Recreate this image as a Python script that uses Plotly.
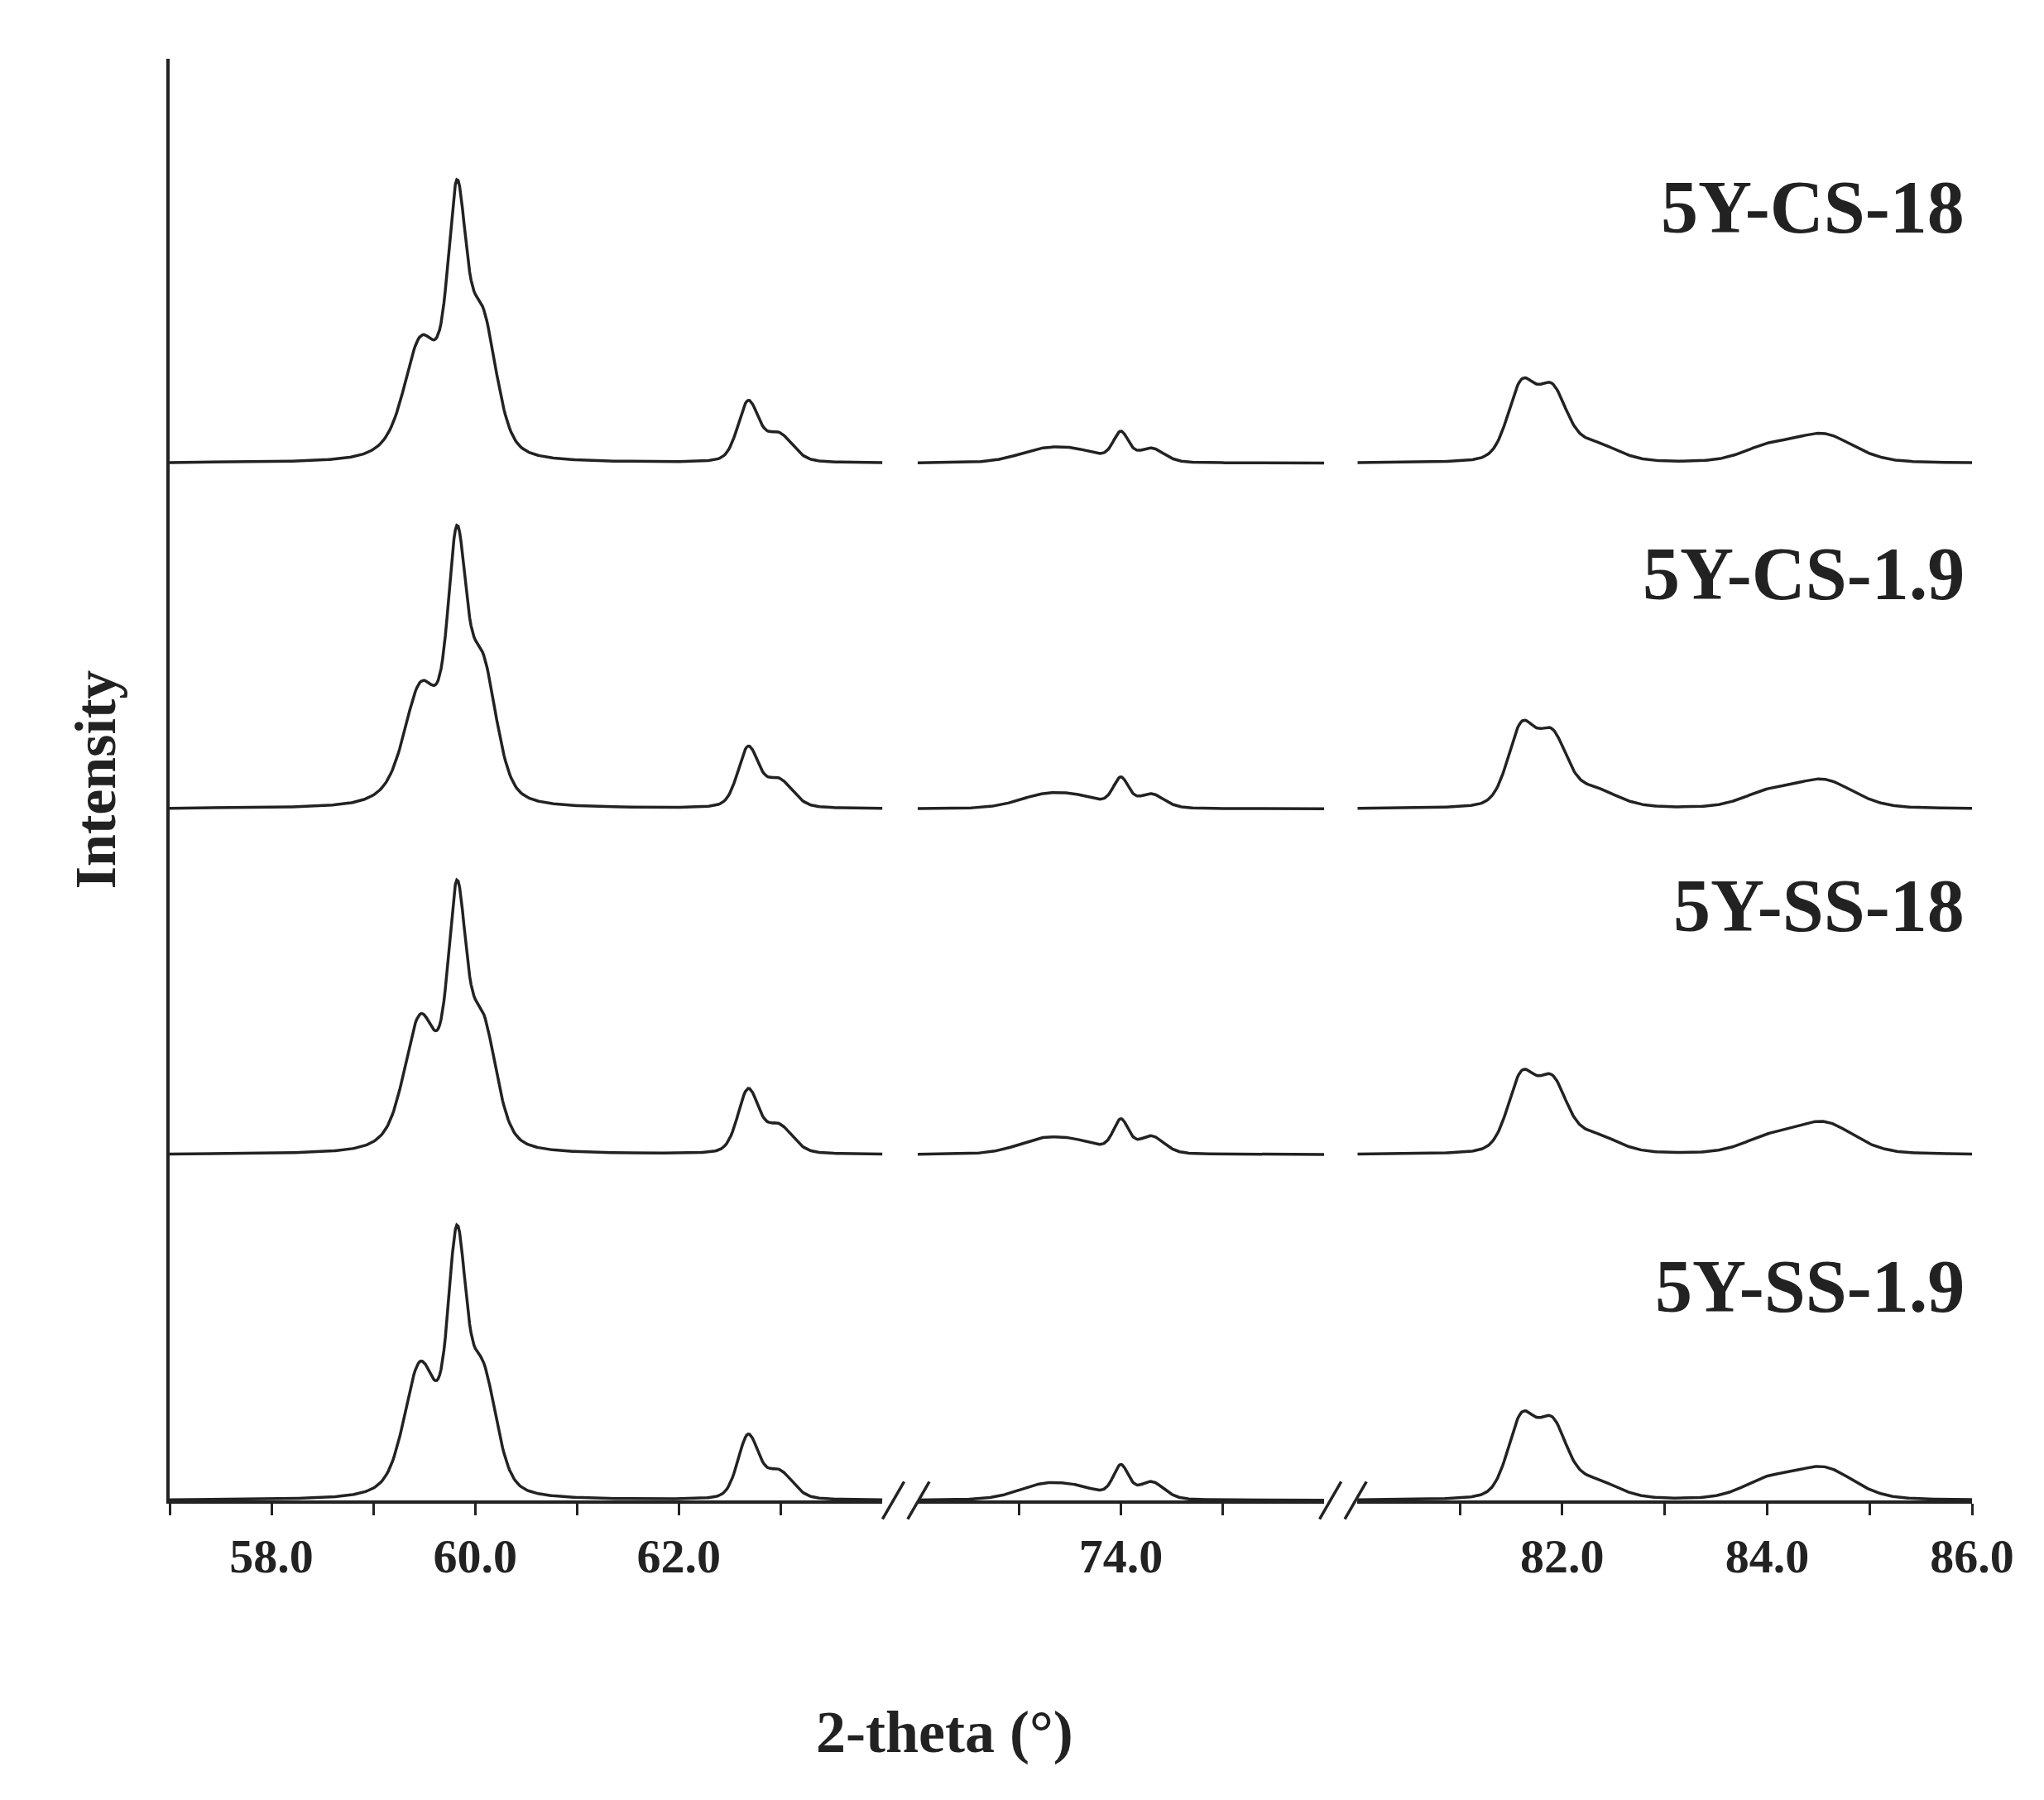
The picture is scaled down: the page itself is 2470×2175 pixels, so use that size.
import numpy as np
import plotly.graph_objects as go

series_names = ["5Y-SS-1.9", "5Y-SS-18", "5Y-CS-1.9", "5Y-CS-18"]
offsets = [0, 1, 2, 3]
# peak parameters: position, height, width (HWHM)
peak_pos = [59.45, 59.82, 60.07, 59.7, 62.68, 62.98, 73.2, 73.55, 74.0, 74.3, 81.6, 81.9, 82.3, 84.0, 84.55]
peak_h = {
    "5Y-SS-1.9": [0.28, 0.58, 0.30, 0.14, 0.18, 0.08, 0.035, 0.03, 0.09, 0.05, 0.22, 0.20, 0.05, 0.05, 0.09],
    "5Y-SS-18":  [0.27, 0.56, 0.30, 0.16, 0.18, 0.08, 0.035, 0.03, 0.09, 0.05, 0.21, 0.19, 0.05, 0.04, 0.09],
    "5Y-CS-1.9": [0.20, 0.55, 0.32, 0.20, 0.17, 0.08, 0.03, 0.03, 0.08, 0.04, 0.22, 0.19, 0.05, 0.04, 0.08],
    "5Y-CS-18":  [0.20, 0.55, 0.32, 0.20, 0.17, 0.08, 0.03, 0.03, 0.08, 0.04, 0.21, 0.19, 0.05, 0.04, 0.08],
}
peak_w = [0.17, 0.1, 0.16, 0.38, 0.12, 0.16, 0.3, 0.3, 0.09, 0.15, 0.16, 0.17, 0.28, 0.3, 0.35]
segments = [(57.0, 64.0), (72.0, 76.0), (80.0, 86.0)]
label_y = [0.62, 1.72, 2.68, 3.74]

def profile(x, hs):
    y = np.zeros_like(x)
    for p, h, w in zip(peak_pos, hs, peak_w):
        y += h * (0.3 / (1 + ((x - p) / w) ** 2) + 0.7 * np.exp(-np.log(2) * ((x - p) / w) ** 2))
    return y

fig = go.Figure()
axnames = ["x", "x2", "x3"]
for name, off in zip(series_names, offsets):
    for (a, b), ax in zip(segments, axnames):
        x = np.linspace(a, b, 500)
        fig.add_trace(go.Scatter(x=x, y=profile(x, peak_h[name]) + off, mode="lines",
                                 line=dict(color="#222", width=3.5), xaxis=ax, yaxis="y",
                                 showlegend=False, hoverinfo="skip"))

font = "Liberation Serif"
def xa(dom, rng, vals, labeled):
    return dict(domain=dom, range=list(rng), tickvals=vals,
                ticktext=[f"<b>{v:.1f}</b>" if v in labeled else "" for v in vals],
                ticks="outside", ticklen=14, tickwidth=3, tickcolor="#222",
                showline=True, linecolor="#222", linewidth=3.5, showgrid=False, zeroline=False,
                tickfont=dict(family=font, size=58, color="#222"), anchor="y")

fig.update_layout(
    width=2470, height=2175, plot_bgcolor="white", paper_bgcolor="white",
    margin=dict(l=197, r=95, t=63, b=370),
    xaxis=xa([0, 0.3955], segments[0], [57, 58, 59, 60, 61, 62, 63], [58, 60, 62]),
    xaxis2=xa([0.415, 0.6405], segments[1], [73, 74, 75], [74]),
    xaxis3=xa([0.659, 1], segments[2], [81, 82, 83, 84, 85, 86], [82, 84, 86]),
    yaxis=dict(range=[0, 4.17], showline=True, linecolor="#222", linewidth=3.5, showticklabels=False,
               ticks="", showgrid=False, zeroline=False,
               title=dict(text="<b>Intensity</b>", font=dict(family=font, size=70, color="#222"), standoff=40)),
)
for name, yy in zip(series_names, label_y):
    fig.add_annotation(text=f"<b>{name}</b>", x=0.997, xref="paper", y=yy, yref="y", xanchor="right",
                       showarrow=False, font=dict(family=font, size=90, color="#222"))
fig.add_annotation(text="<b>2-theta (°)</b>", x=0.43, xref="paper", y=-0.185, yref="paper",
                   showarrow=False, font=dict(family=font, size=72, color="#222"))
for xc in [0.4085, 0.651]:
    for dx in [-0.007, 0.007]:
        fig.add_shape(type="line", xref="paper", yref="paper", x0=xc + dx - 0.006, y0=-0.013,
                      x1=xc + dx + 0.006, y1=0.013, line=dict(color="#222", width=3.5))
fig.write_html("out.html")
